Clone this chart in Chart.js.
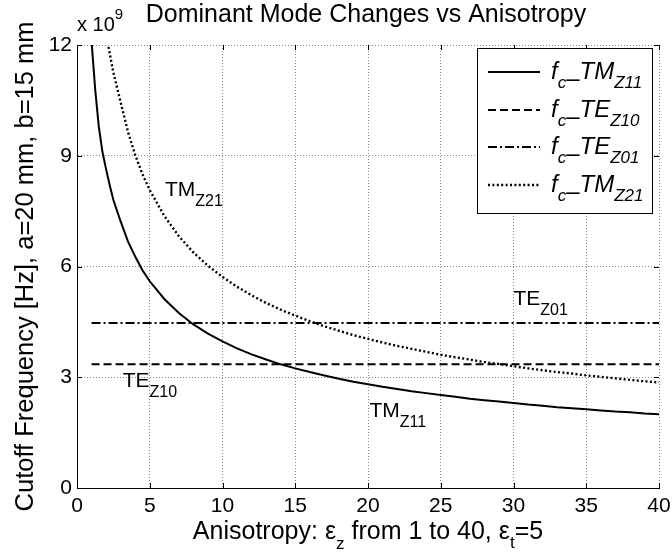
<!DOCTYPE html>
<html>
<head>
<meta charset="utf-8">
<script src="https://cdn.jsdelivr.net/npm/chart.js@4.4.1/dist/chart.umd.min.js"></script>
<style>
  html, body { margin: 0; padding: 0; background: #fff; }
  #wrap { width: 672px; height: 558px; }
</style>
</head>
<body>
<div id="wrap"><canvas id="modeChart" width="672" height="558"></canvas></div>
<script>
// anisotropy eps_z values and cutoff frequencies (x 10^9 Hz)
var tm11Eps = [1, 1.25, 1.5, 1.75, 2, 2.25, 2.5, 3, 3.5, 4, 4.5, 5, 6, 7, 8, 9, 10, 11, 12, 13, 14, 15, 16, 17, 18, 19, 20,
               21, 22, 23, 24, 25, 26, 27, 28, 29, 30, 31, 32, 33, 34, 35, 36, 37, 38, 39, 40];
var tm11Freq = [12.1, 10.8, 9.78, 9.1, 8.63, 8.2, 7.8, 7.22, 6.68, 6.27, 5.9, 5.6, 5.12, 4.74, 4.43, 4.18, 3.97, 3.78, 3.62, 3.48, 3.35, 3.24, 3.14, 3.05, 2.96, 2.88, 2.81,
                2.74, 2.68, 2.62, 2.57, 2.52, 2.47, 2.42, 2.38, 2.34, 2.30, 2.26, 2.23, 2.19, 2.16, 2.13, 2.10, 2.07, 2.05, 2.02, 2.00];

var tm21Eps = [2, 2.5, 3, 3.5, 4, 4.5, 5, 6, 7, 8, 9, 10, 11, 12, 13, 14, 15, 16, 17, 18, 19, 20,
               21, 22, 23, 24, 25, 26, 27, 28, 29, 30, 31, 32, 33, 34, 35, 36, 37, 38, 39, 40];
var tm21Freq = [12.3, 11.25, 10.45, 9.65, 9.02, 8.5, 8.07, 7.37, 6.82, 6.38, 6.02, 5.72, 5.45, 5.22, 5.01, 4.83, 4.67, 4.52, 4.38, 4.26, 4.14, 4.04,
                3.94, 3.85, 3.77, 3.69, 3.61, 3.54, 3.48, 3.41, 3.36, 3.30, 3.24, 3.19, 3.14, 3.10, 3.05, 3.01, 2.97, 2.93, 2.89, 2.86];

var te10Eps = [1, 40];
var te10Freq = [3.35, 3.35];
var te01Eps = [1, 40];
var te01Freq = [4.47, 4.47];

var xTicks = [0, 5, 10, 15, 20, 25, 30, 35, 40];
var yTicks = [0, 3, 6, 9, 12];

// legend entries: mode name and subscript
var legendModes = ['TM', 'TE', 'TE', 'TM'];
var legendSubs = ['Z11', 'Z10', 'Z01', 'Z21'];

// curve labels in the plot (data coordinates of the left baseline)
var noteMode = ['TM', 'TE', 'TM', 'TE'];
var noteSub = ['Z21', 'Z10', 'Z11', 'Z01'];
var noteX = [6.05, 3.14, 20.1, 30.0];
var noteY = [7.9, 2.74, 1.91, 4.96];

var FONT = "'Liberation Sans', Arial, sans-serif";

function pts(xs, ys) {
    return xs.map(function (x, i) { return {x: x, y: ys[i]}; });
}

function fontStr(r) {
    return (r.italic ? 'italic ' : '') + r.size + 'px ' + FONT;
}

function drawRuns(ctx, runs, x, y, align) {
    var total = 0;
    runs.forEach(function (r) {
        ctx.font = fontStr(r);
        r.w = ctx.measureText(r.t).width;
        total += r.w;
    });
    var cx = align === 'center' ? x - total / 2 : x;
    runs.forEach(function (r) {
        ctx.font = fontStr(r);
        ctx.fillText(r.t, cx, y + (r.dy || 0));
        cx += r.w;
    });
}

var decor = {
    id: 'decor',
    afterDraw: function (chart) {
        var ctx = chart.ctx;
        var area = chart.chartArea;
        var xs = chart.scales.x, ys = chart.scales.y;
        ctx.save();
        ctx.fillStyle = '#000';
        ctx.strokeStyle = '#000';
        ctx.textAlign = 'left';
        ctx.textBaseline = 'alphabetic';

        // inward tick marks on all four sides
        ctx.lineWidth = 1;
        ctx.beginPath();
        xTicks.forEach(function (v) {
            var px = Math.round(xs.getPixelForValue(v)) + 0.5;
            ctx.moveTo(px, area.bottom); ctx.lineTo(px, area.bottom - 5);
            ctx.moveTo(px, area.top); ctx.lineTo(px, area.top + 5);
        });
        yTicks.forEach(function (v) {
            var py = Math.round(ys.getPixelForValue(v)) + 0.5;
            ctx.moveTo(area.left, py); ctx.lineTo(area.left + 5, py);
            ctx.moveTo(area.right, py); ctx.lineTo(area.right - 5, py);
        });
        ctx.stroke();

        // title
        drawRuns(ctx, [{t: 'Dominant Mode Changes vs Anisotropy', size: 25}], 366, 22, 'center');

        // exponent
        drawRuns(ctx, [{t: 'x 10', size: 20}, {t: '9', size: 15, dy: -12}], area.left, 31, 'left');

        // x label
        drawRuns(ctx, [
            {t: 'Anisotropy: \u03b5', size: 25},
            {t: 'z', size: 17, dy: 10},
            {t: ' from 1 to 40, \u03b5', size: 25},
            {t: 't', size: 17, dy: 9},
            {t: '=5', size: 25}
        ], (area.left + area.right) / 2, 539, 'center');

        // y label
        ctx.save();
        ctx.translate(33, (area.top + area.bottom) / 2);
        ctx.rotate(-Math.PI / 2);
        drawRuns(ctx, [{t: 'Cutoff Frequency [Hz], a=20 mm, b=15 mm', size: 25.5}], 0, 0, 'center');
        ctx.restore();

        // curve labels
        noteMode.forEach(function (m, i) {
            drawRuns(ctx, [{t: m, size: 21}, {t: noteSub[i], size: 16, dy: 10}],
                xs.getPixelForValue(noteX[i]), ys.getPixelForValue(noteY[i]), 'left');
        });

        // legend box
        var lx = area.right - 182, ly = area.top + 3, lw = 175, lh = 165;
        ctx.fillStyle = '#fff';
        ctx.fillRect(lx, ly, lw, lh);
        ctx.strokeStyle = '#000';
        ctx.lineWidth = 1;
        ctx.strokeRect(lx + 0.5, ly + 0.5, lw, lh);
        chart.data.datasets.forEach(function (ds, i) {
            var rowY = Math.round(ly + 24 + i * 37.7);
            ctx.save();
            ctx.strokeStyle = ds.borderColor;
            ctx.lineWidth = ds.borderWidth;
            ctx.setLineDash(ds.borderDash || []);
            ctx.beginPath();
            ctx.moveTo(lx + 11, rowY);
            ctx.lineTo(lx + 63, rowY);
            ctx.stroke();
            ctx.restore();
            ctx.fillStyle = '#000';
            drawRuns(ctx, [
                {t: 'f', size: 24, italic: true},
                {t: 'c', size: 17, italic: true, dy: 9},
                {t: '\u2013', size: 24, dy: 7},
                {t: legendModes[i], size: 24, italic: true},
                {t: legendSubs[i], size: 17, italic: true, dy: 9}
            ], lx + 74, rowY + 7, 'left');
        });
        ctx.restore();
    }
};

function noEdgePadding(scale) {
    scale.paddingLeft = 0;
    scale.paddingRight = 0;
    scale.paddingTop = 0;
    scale.paddingBottom = 0;
}

var ctx = document.getElementById('modeChart').getContext('2d');
var chart = new Chart(ctx, {
    type: 'line',
    data: {
        datasets: [{
            label: 'fc-TMz11',
            data: pts(tm11Eps, tm11Freq),
            borderColor: '#000',
            borderWidth: 2,
            borderDash: []
        }, {
            label: 'fc-TEz10',
            data: pts(te10Eps, te10Freq),
            borderColor: '#000',
            borderWidth: 2,
            borderDash: [8, 4]
        }, {
            label: 'fc-TEz01',
            data: pts(te01Eps, te01Freq),
            borderColor: '#000',
            borderWidth: 2,
            borderDash: [9, 3, 2, 3]
        }, {
            label: 'fc-TMz21',
            data: pts(tm21Eps, tm21Freq),
            borderColor: '#000',
            borderWidth: 2.4,
            borderDash: [2, 2.4]
        }]
    },
    options: {
        responsive: false,
        animation: false,
        devicePixelRatio: 1,
        clip: 0,
        elements: {point: {radius: 0}, line: {tension: 0, fill: false}},
        layout: {padding: {left: 0, top: 45, right: 13, bottom: 0}},
        plugins: {legend: {display: false}, title: {display: false}, tooltip: {enabled: false}},
        scales: {
            x: {
                type: 'linear',
                min: 0,
                max: 40,
                afterBuildTicks: function (scale) {
                    scale.ticks = xTicks.map(function (v) { return {value: v}; });
                },
                afterFit: function (scale) { scale.height = 70; noEdgePadding(scale); },
                grid: {color: '#8a8a8a', lineWidth: 1, drawTicks: false},
                border: {display: true, color: '#000', width: 1, dash: [1, 2]},
                ticks: {color: '#000', padding: 6, maxRotation: 0, font: {family: FONT, size: 21}}
            },
            y: {
                type: 'linear',
                min: 0,
                max: 12,
                afterBuildTicks: function (scale) {
                    scale.ticks = yTicks.map(function (v) { return {value: v}; });
                },
                afterFit: function (scale) { scale.width = 77; noEdgePadding(scale); },
                grid: {color: '#8a8a8a', lineWidth: 1, drawTicks: false},
                border: {display: true, color: '#000', width: 1, dash: [1, 2]},
                ticks: {color: '#000', padding: 5, font: {family: FONT, size: 21}}
            }
        }
    },
    plugins: [decor]
});
</script>
</body>
</html>
